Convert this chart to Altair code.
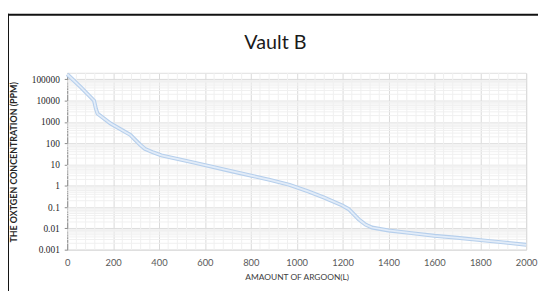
import altair as alt
import pandas as pd

# Data
argon = [0, 60, 117, 125, 132, 189, 275, 295, 318, 338, 375, 410, 553, 725, 883,
         969, 1050, 1120, 1199, 1227, 1270, 1300, 1328, 1400, 1500, 1600, 1700,
         1800, 1900, 2000]
oxygen = [175000, 42000, 10000, 4200, 2470, 850, 247, 150, 85, 55, 37, 27, 12.4,
          4.6, 1.9, 1.1, 0.55, 0.28, 0.12, 0.08, 0.027, 0.015, 0.011, 0.008,
          0.006, 0.0045, 0.0036, 0.0028, 0.0022, 0.0017]

x_ticks = list(range(0, 2001, 200))
y_ticks = [0.001, 0.01, 0.1, 1, 10, 100, 1000, 10000, 100000]
x_minor = [v for v in range(0, 2001, 40) if v % 200]
y_minor = [m * d for d in y_ticks for m in range(2, 10) if m * d <= 200000]

df = pd.DataFrame({"argon": argon, "oxygen": oxygen})
xs = alt.Scale(domain=[0, 2000], nice=False, zero=False)
ys = alt.Scale(type="log", domain=[0.001, 200000], nice=False)

sans = "Lato"

x_axis = alt.Axis(values=x_ticks, format="d", title="AMAOUNT OF ARGOON(L)",
                  grid=True, gridColor="#d9d9d9", ticks=False,
                  domain=False, labelFont=sans, labelFontSize=9.5,
                  labelColor="#595959", labelPadding=8,
                  titleFont=sans, titleFontSize=8.5,
                  titleFontWeight="normal", titleColor="#404040",
                  titleY=23, labelFlush=False)
y_axis = alt.Axis(values=y_ticks, format="~g",
                  title="THE OXTGEN CONCENTRATION (PPM)",
                  grid=True, gridColor="#d9d9d9", ticks=True,
                  tickSize=3, tickColor="#8c8c8c", domain=True,
                  domainColor="#8c8c8c", labelFont="Liberation Serif",
                  labelFontSize=9.5, labelColor="#262626",
                  labelPadding=5, titleFont=sans, titleFontSize=9,
                  titleFontWeight="bold", titleColor="#262626",
                  titleX=-49, titleY=90)

minor_y = alt.Chart(pd.DataFrame({"oxygen": y_minor})).mark_rule(
    color="#f0f0f0", strokeWidth=1
).encode(y=alt.Y("oxygen:Q", scale=ys, axis=y_axis))

minor_x = alt.Chart(pd.DataFrame({"argon": x_minor})).mark_rule(
    color="#f0f0f0", strokeWidth=1
).encode(x=alt.X("argon:Q", scale=xs, axis=x_axis))

base = alt.Chart(df).encode(
    x=alt.X("argon:Q", scale=xs, axis=x_axis),
    y=alt.Y("oxygen:Q", scale=ys, axis=y_axis),
)

outer = base.mark_line(color="#b6cfec", strokeWidth=4)
inner = base.mark_line(color="#e2ecf8", strokeWidth=1.8)

one = pd.DataFrame({"t": ["Vault B"]})
title = alt.Chart(one).mark_text(
    font=sans, fontSize=20, color="#1a1a1a", baseline="alphabetic",
    align="center"
).encode(text="t:N", x=alt.value(211), y=alt.value(-24))
frame_top = alt.Chart(one).mark_rule(color="#111111", strokeWidth=2).encode(
    x=alt.value(-61), x2=alt.value(480), y=alt.value(-59))
frame_left = alt.Chart(one).mark_rule(color="#111111", strokeWidth=2).encode(
    x=alt.value(-60), y=alt.value(-60), y2=alt.value(240))

chart = alt.layer(minor_y, minor_x, outer, inner, title, frame_top,
                  frame_left).properties(
    width=465, height=179, autosize="none",
    padding={"left": 60, "top": 64, "right": 12, "bottom": 40},
).configure_view(stroke=None).configure(background="white")

chart.save("out.html", embed_options={"renderer": "svg", "actions": False})
